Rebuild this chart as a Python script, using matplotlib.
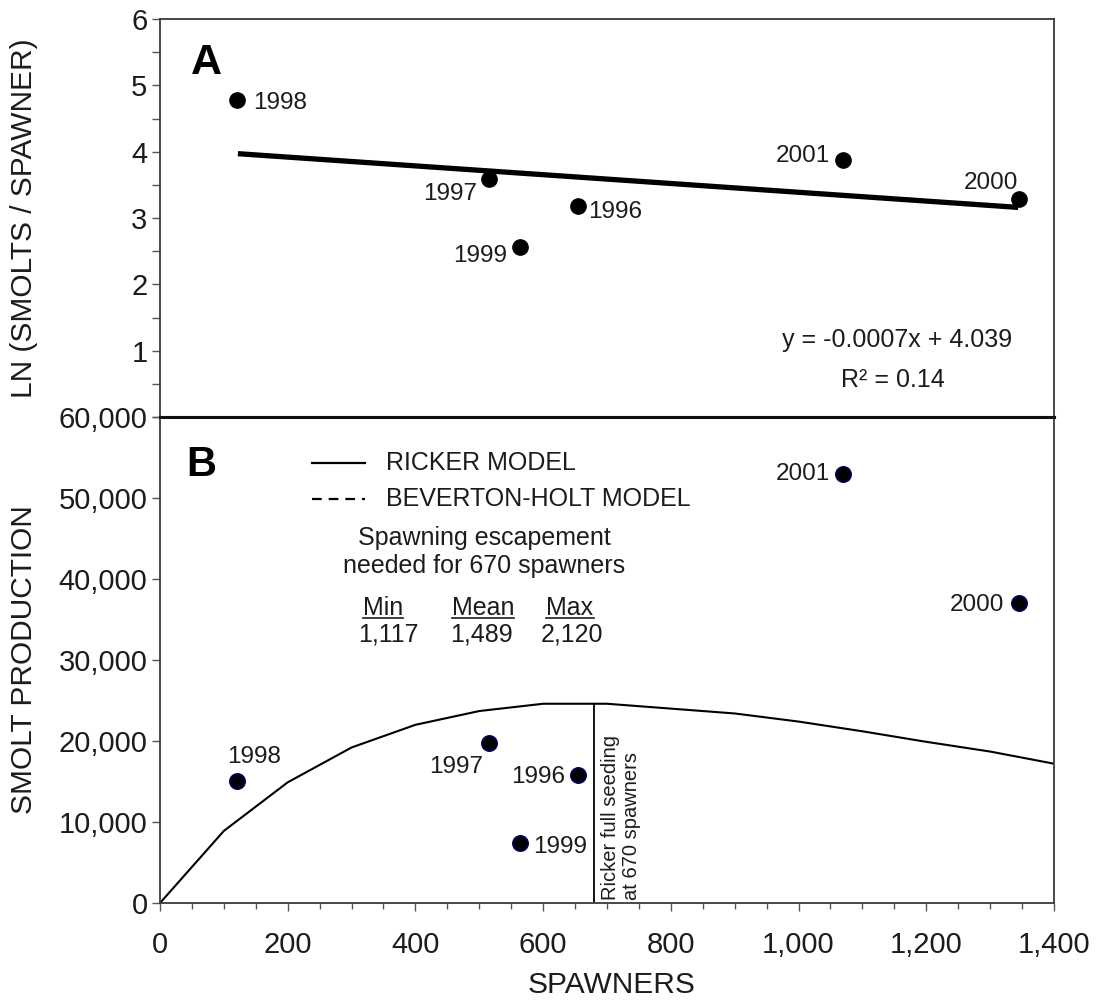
import matplotlib
matplotlib.use("Agg")
import matplotlib.pyplot as plt
from matplotlib.ticker import MultipleLocator, FixedLocator
import numpy as np

plt.rcParams['font.family'] = ['Liberation Sans', 'DejaVu Sans']
plt.rcParams['lines.scale_dashes'] = False

# ---------------- data ----------------
years = ['1996', '1997', '1998', '1999', '2000', '2001']
spawners = [654, 516, 121, 564, 1345, 1070]
ln_smolts_per_spawner = [3.18, 3.59, 4.78, 2.56, 3.29, 3.88]
smolt_production = [15800, 19800, 15100, 7400, 37000, 53000]

trend_x = [122, 1344]
trend_y = [3.97, 3.16]
equation_text = 'y = -0.0007x + 4.039'
r2_text = 'R² = 0.14'

ricker_x = [0, 100, 200, 300, 400, 500, 600, 700, 800, 900, 1000, 1100, 1200, 1300, 1400]
ricker_y = [0, 8900, 14900, 19200, 22000, 23700, 24600, 24600, 24000, 23400, 22400, 21200, 19900, 18700, 17200]
full_seeding_x = 680

esc_headers = ['Min', 'Mean', 'Max']
esc_values = ['1,117', '1,489', '2,120']

xticks = [0, 200, 400, 600, 800, 1000, 1200, 1400]
xtick_labels = ['0', '200', '400', '600', '800', '1,000', '1,200', '1,400']
yticksA = [0, 1, 2, 3, 4, 5, 6]
ytick_labelsA = ['', '1', '2', '3', '4', '5', '6']
yticksB = [0, 10000, 20000, 30000, 40000, 50000, 60000]
ytick_labelsB = ['0', '10,000', '20,000', '30,000', '40,000', '50,000', '60,000']

# label offsets (pixels) and alignment for year labels
offA = {'1996': (11, -6, 'left'), '1997': (-12, -15, 'right'), '1998': (16, -3, 'left'),
        '1999': (-13, -9, 'right'), '2000': (-1, 16, 'right'), '2001': (-13, 4, 'right')}
offB = {'1996': (-12, -2, 'right'), '1997': (-6, -24, 'right'), '1998': (17, 24, 'center'),
        '1999': (13, -4, 'left'), '2000': (-15, -2, 'right'), '2001': (-13, 0, 'right')}

TXT = '#1c1c1c'
SPINE = '#3a3a3a'
TICKC = '#555555'

fig = plt.figure(figsize=(11.02, 10.01), dpi=100)
axA = fig.add_axes([0.1452, 0.5834, 0.8112, 0.3976])
axB = fig.add_axes([0.1452, 0.0979, 0.8112, 0.4855])

for ax in (axA, axB):
    for s in ax.spines.values():
        s.set_color(SPINE)
        s.set_linewidth(1.3)
    ax.set_xlim(0, 1400)
axA.spines['bottom'].set_linewidth(2.2)
axB.spines['top'].set_linewidth(2.2)
axA.spines['bottom'].set_color('#111111')
axB.spines['top'].set_color('#111111')

# ---------------- panel A ----------------
axA.set_ylim(0, 6)
axA.set_yticks(yticksA)
axA.set_yticklabels(ytick_labelsA)
axA.yaxis.set_minor_locator(MultipleLocator(0.5))
axA.set_xticks([])
axA.tick_params(axis='y', which='both', direction='out', length=6, width=1, color=TICKC,
                labelsize=21, labelcolor=TXT, pad=3)
axA.plot(trend_x, trend_y, color='black', lw=3.8, solid_capstyle='butt', zorder=2)
axA.plot(spawners, ln_smolts_per_spawner, 'o', color='black', ms=11, zorder=3)
for yr, x, y in zip(years, spawners, ln_smolts_per_spawner):
    dx, dy, ha = offA[yr]
    axA.annotate(yr, (x, y), xytext=(dx, dy), textcoords='offset pixels',
                 ha=ha, va='center', fontsize=17.5, color=TXT)
axA.text(0.0515, 0.889, 'A', transform=axA.transAxes, fontsize=31, fontweight='bold',
         ha='center', va='center', color='black')
axA.text(0.825, (417 - 340) / 398, equation_text, transform=axA.transAxes,
         ha='center', va='center', fontsize=18, color=TXT)
axA.text(0.820, (417 - 380) / 398, r2_text, transform=axA.transAxes,
         ha='center', va='center', fontsize=18, color=TXT)

# ---------------- panel B ----------------
axB.set_ylim(0, 60000)
axB.set_yticks(yticksB)
axB.set_yticklabels(ytick_labelsB)
axB.set_xticks(xticks)
axB.set_xticklabels(xtick_labels)
axB.xaxis.set_minor_locator(MultipleLocator(50))
axB.tick_params(axis='y', which='both', direction='out', length=6, width=1, color=TICKC,
                labelsize=21, labelcolor=TXT, pad=3)
axB.tick_params(axis='x', which='major', direction='out', length=6, width=1, color=TICKC,
                labelsize=21, labelcolor=TXT, pad=14)
axB.tick_params(axis='x', which='minor', direction='out', length=4, width=1, color=TICKC)

axB.plot(ricker_x, ricker_y, color='black', lw=1.5, zorder=2)
top = np.interp(full_seeding_x, ricker_x, ricker_y)
axB.vlines(full_seeding_x, 0, top, color='black', lw=1.3, zorder=2)
axB.plot(spawners, smolt_production, 'o', mfc='black', mec='#000060', mew=1.2, ms=11, zorder=3)
for yr, x, y in zip(years, spawners, smolt_production):
    dx, dy, ha = offB[yr]
    axB.annotate(yr, (x, y), xytext=(dx, dy), textcoords='offset pixels',
                 ha=ha, va='center', fontsize=17.5, color=TXT)

axB.text(0.046, 0.901, 'B', transform=axB.transAxes, fontsize=30, fontweight='bold',
         ha='center', va='center', color='black')
# legend
axB.plot([0.170, 0.229], [0.905, 0.905], transform=axB.transAxes, color='black', lw=1.6)
axB.plot([0.170, 0.229], [0.831, 0.831], transform=axB.transAxes, color='black', lw=1.6,
         dashes=(7, 5))
axB.text(0.253, 0.905, 'RICKER MODEL', transform=axB.transAxes, ha='left', va='center',
         fontsize=18, color=TXT)
axB.text(0.253, 0.831, 'BEVERTON-HOLT MODEL', transform=axB.transAxes, ha='left', va='center',
         fontsize=18, color=TXT)
axB.text(0.3624, 0.751, 'Spawning escapement', transform=axB.transAxes, ha='center',
         va='center', fontsize=18, color=TXT)
axB.text(0.3624, 0.6934, 'needed for 670 spawners', transform=axB.transAxes, ha='center',
         va='center', fontsize=18, color=TXT)

hx = [0.2494, 0.3613, 0.4586]
vx = [0.2550, 0.3591, 0.4609]
htexts = []
for h, x in zip(esc_headers, hx):
    htexts.append(axB.text(x, (903 - 615) / 486, h, transform=axB.transAxes, ha='center',
                           va='baseline', fontsize=18, color=TXT))
for v, x in zip(esc_values, vx):
    axB.text(x, (903 - 641) / 486, v, transform=axB.transAxes, ha='center',
             va='baseline', fontsize=18, color=TXT)

axB.text(0.5157, 0.006, 'Ricker full seeding\nat 670 spawners', transform=axB.transAxes,
         rotation=90, ha='center', va='bottom', multialignment='left', fontsize=14.5,
         color=TXT, linespacing=1.15)

# axis labels
fig.text(24 / 1102, 1 - 218 / 1001, 'LN (SMOLTS / SPAWNER)', rotation=90, ha='center',
         va='center', fontsize=21.5, color=TXT)
fig.text(24 / 1102, 1 - 660 / 1001, 'SMOLT PRODUCTION', rotation=90, ha='center',
         va='center', fontsize=21.5, color=TXT)
fig.text(612 / 1102, 1 - 985 / 1001, 'SPAWNERS', ha='center', va='center',
         fontsize=21.5, color=TXT)

# underlines for Min/Mean/Max
fig.canvas.draw()
r = fig.canvas.get_renderer()
inv = axB.transAxes.inverted()
yu = (903 - 617.5) / 486
for t in htexts:
    bb = t.get_window_extent(r)
    (x0, _), (x1, _) = inv.transform([(bb.x0, bb.y0), (bb.x1, bb.y1)])
    axB.plot([x0, x1], [yu, yu], transform=axB.transAxes, color=TXT, lw=1.2, clip_on=False)

fig.savefig('out.png', dpi=100, facecolor='white')
